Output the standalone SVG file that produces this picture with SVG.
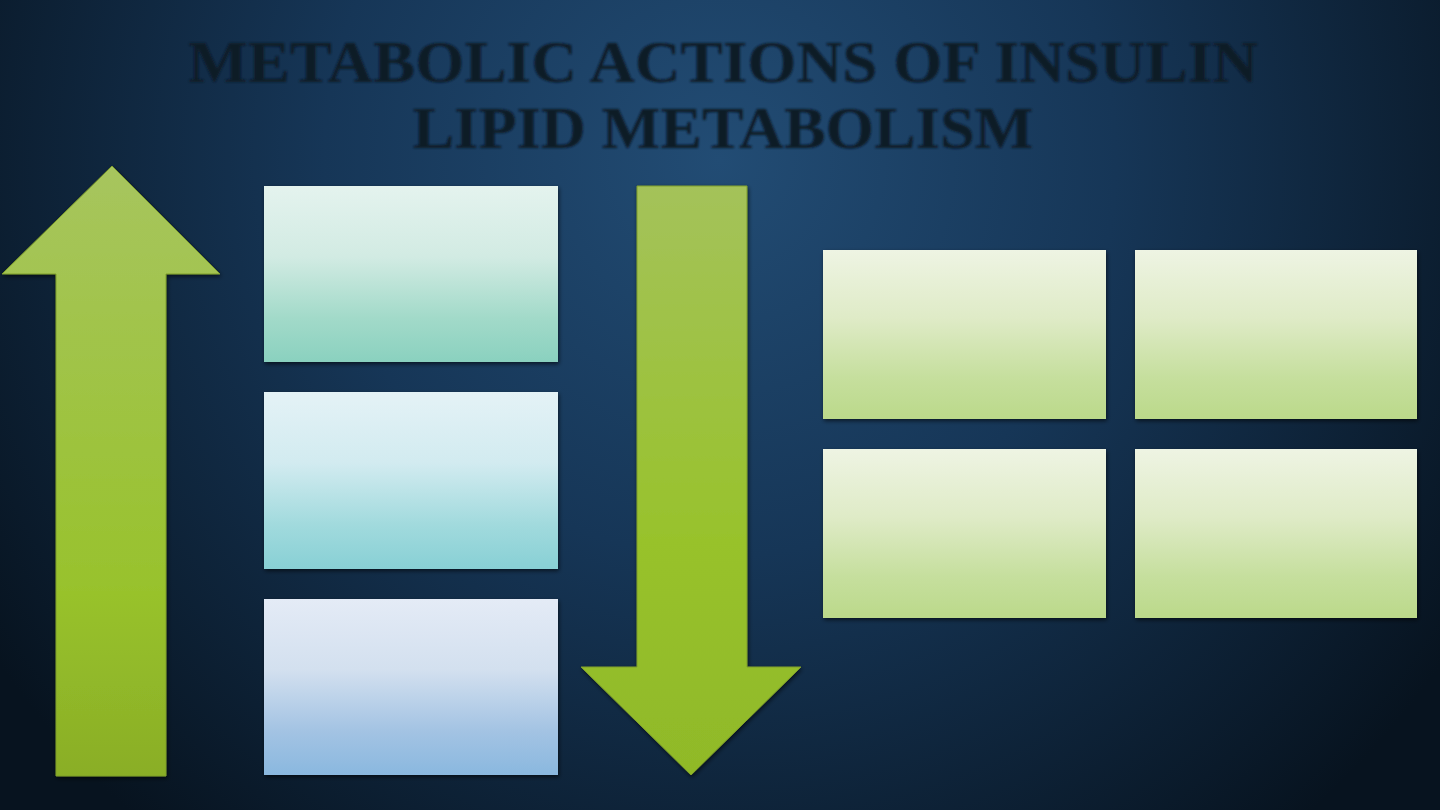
<svg xmlns="http://www.w3.org/2000/svg" width="1440" height="810" viewBox="0 0 1440 810">
  <defs>
    <radialGradient id="bg" cx="720" cy="160" r="880" gradientUnits="userSpaceOnUse">
      <stop offset="0" stop-color="#224c74"/>
      <stop offset="0.45" stop-color="#163657"/>
      <stop offset="1" stop-color="#07131f"/>
    </radialGradient>
    <linearGradient id="arrowUp" x1="0" y1="0" x2="0" y2="1">
      <stop offset="0" stop-color="#a7c55e"/>
      <stop offset="0.7" stop-color="#98c22c"/>
      <stop offset="1" stop-color="#8aae26"/>
    </linearGradient>
    <linearGradient id="arrowDown" x1="0" y1="0" x2="0" y2="1">
      <stop offset="0" stop-color="#a4c25a"/>
      <stop offset="0.6" stop-color="#98c22c"/>
      <stop offset="1" stop-color="#90b928"/>
    </linearGradient>
    <linearGradient id="gTeal" x1="0" y1="0" x2="0" y2="1">
      <stop offset="0" stop-color="#e4f3ee"/>
      <stop offset="0.4" stop-color="#d2ebe3"/>
      <stop offset="0.75" stop-color="#a2dac9"/>
      <stop offset="1" stop-color="#8ad1bf"/>
    </linearGradient>
    <linearGradient id="gCyan" x1="0" y1="0" x2="0" y2="1">
      <stop offset="0" stop-color="#e4f2f6"/>
      <stop offset="0.4" stop-color="#d2ebf0"/>
      <stop offset="0.75" stop-color="#a1dadd"/>
      <stop offset="1" stop-color="#88d0d5"/>
    </linearGradient>
    <linearGradient id="gBlue" x1="0" y1="0" x2="0" y2="1">
      <stop offset="0" stop-color="#e4ebf6"/>
      <stop offset="0.4" stop-color="#d3e0ef"/>
      <stop offset="0.75" stop-color="#a3c3e3"/>
      <stop offset="1" stop-color="#8ab8df"/>
    </linearGradient>
    <linearGradient id="gGreen" x1="0" y1="0" x2="0" y2="1">
      <stop offset="0" stop-color="#eef4e3"/>
      <stop offset="0.4" stop-color="#dfebc7"/>
      <stop offset="0.75" stop-color="#c6df9e"/>
      <stop offset="1" stop-color="#bbd98a"/>
    </linearGradient>
    <filter id="shadow" x="-10%" y="-10%" width="120%" height="120%">
      <feDropShadow dx="1" dy="2" stdDeviation="2" flood-color="#000000" flood-opacity="0.6"/>
    </filter>
    <filter id="soft" x="-5%" y="-20%" width="110%" height="140%">
      <feGaussianBlur stdDeviation="0.8"/>
    </filter>
  </defs>
  <style>
    .title { font-family: "Liberation Serif", "DejaVu Serif", serif; font-weight: bold; font-size: 60px; fill: #0d1a28; }
    .box { filter: url(#shadow); }
    .arrow { filter: url(#shadow); stroke: #7f9e2a; stroke-width: 1; }
  </style>

  <rect x="0" y="0" width="1440" height="810" fill="url(#bg)"/>

  <g id="title" filter="url(#soft)">
    <text class="title" x="723" y="82" text-anchor="middle" textLength="1070" lengthAdjust="spacingAndGlyphs">METABOLIC ACTIONS OF INSULIN</text>
    <text class="title" x="723" y="148" text-anchor="middle" textLength="621" lengthAdjust="spacingAndGlyphs">LIPID METABOLISM</text>
  </g>

  <g id="arrow-up">
    <polygon class="arrow" points="112,166 220,274 166,274 166,776 56,776 56,274 2,274" fill="url(#arrowUp)"/>
  </g>

  <g id="arrow-down">
    <polygon class="arrow" points="637,186 747,186 747,667 801,667 691,775 581,667 637,667" fill="url(#arrowDown)"/>
  </g>

  <g id="box-left-1"><rect class="box" x="264" y="186" width="294" height="176" fill="url(#gTeal)"/></g>
  <g id="box-left-2"><rect class="box" x="264" y="392" width="294" height="177" fill="url(#gCyan)"/></g>
  <g id="box-left-3"><rect class="box" x="264" y="599" width="294" height="176" fill="url(#gBlue)"/></g>

  <g id="box-right-1"><rect class="box" x="823" y="250" width="283" height="169" fill="url(#gGreen)"/></g>
  <g id="box-right-2"><rect class="box" x="1135" y="250" width="282" height="169" fill="url(#gGreen)"/></g>
  <g id="box-right-3"><rect class="box" x="823" y="449" width="283" height="169" fill="url(#gGreen)"/></g>
  <g id="box-right-4"><rect class="box" x="1135" y="449" width="282" height="169" fill="url(#gGreen)"/></g>

  <g id="connectors"></g>
</svg>
